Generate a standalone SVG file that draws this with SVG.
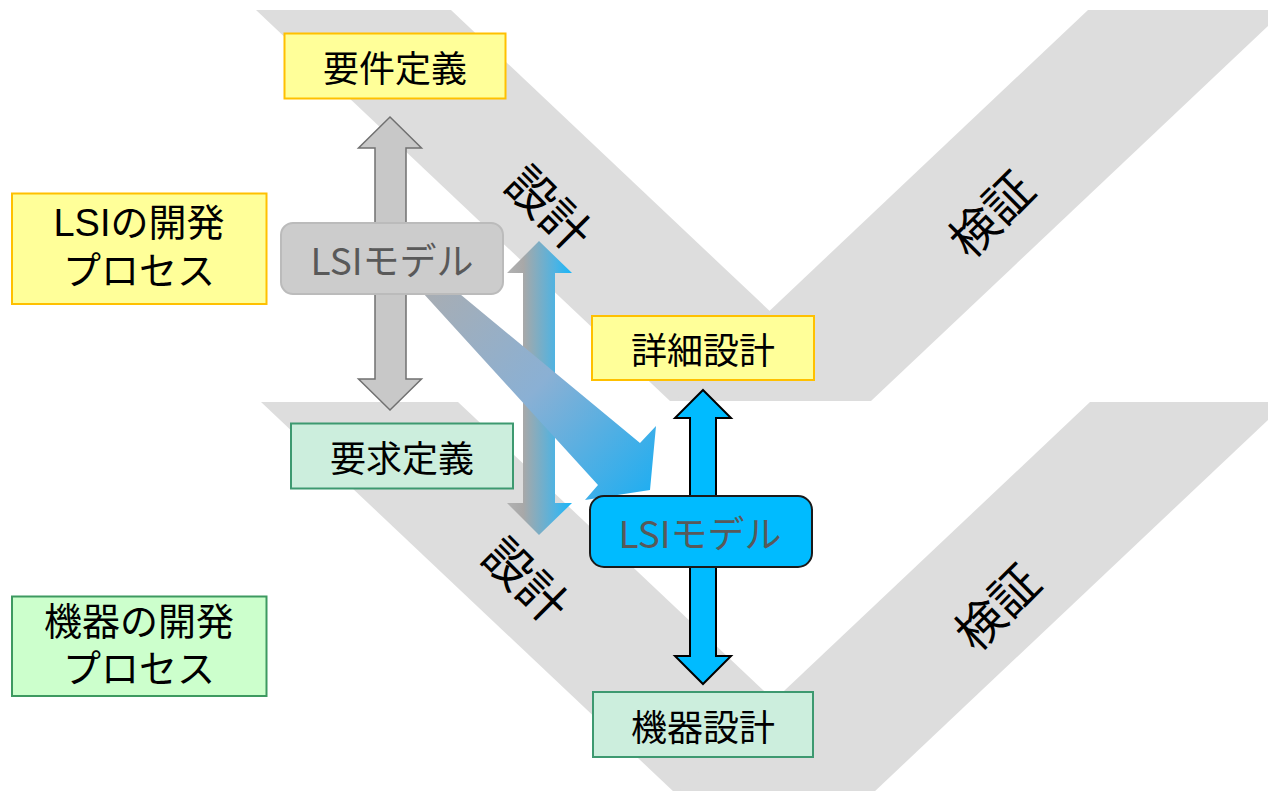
<svg xmlns="http://www.w3.org/2000/svg" width="1268" height="791" viewBox="0 0 1268 791">
<defs>
<style>
.band{fill:#DDDDDD;}
.lbl{font-family:"Noto Sans CJK JP","Noto Sans",sans-serif;font-size:36px;fill:#000;text-anchor:middle;dominant-baseline:central;}
.proc{font-family:"Liberation Sans","Noto Sans CJK JP",sans-serif;font-size:38px;fill:#000;text-anchor:middle;}
.mdl{font-family:"Noto Sans CJK JP","Noto Sans",sans-serif;font-size:37px;fill:#595959;text-anchor:middle;dominant-baseline:central;}
.diag{font-family:"Noto Sans CJK JP","Noto Sans",sans-serif;font-size:48px;fill:#000;text-anchor:middle;dominant-baseline:central;}
.yel{fill:#FFFF99;stroke:#FFC000;stroke-width:2;}
.mint{fill:#CCEEDD;stroke:#3D9970;stroke-width:2;}
.grn{fill:#CCFFCC;stroke:#3D9960;stroke-width:2;}
</style>
<linearGradient id="gv" gradientUnits="userSpaceOnUse" x1="507" y1="0" x2="572" y2="0">
<stop offset="0" stop-color="#B2B2B2"/>
<stop offset="0.25" stop-color="#A8A8A8"/>
<stop offset="0.75" stop-color="#4DB3E3"/>
<stop offset="1" stop-color="#18B6F8"/>
</linearGradient>
<linearGradient id="gd" gradientUnits="userSpaceOnUse" x1="425" y1="285" x2="650" y2="490">
<stop offset="0" stop-color="#A9ADB2"/>
<stop offset="0.5" stop-color="#8AB0D4"/>
<stop offset="1" stop-color="#22AEF0"/>
</linearGradient>
</defs>
<rect width="1268" height="791" fill="#FFFFFF"/>
<g id="bands">
<polygon class="band" points="256,10 451,10 865,401 670,401"/>
<polygon class="band" points="1088,10 1285,10 871,401 674,401"/>
<polygon class="band" points="261,402 458,402 872,793 675,793"/>
<polygon class="band" points="1090,402 1287,402 873,793 676,793"/>
</g>
<g id="band-labels">
<text class="diag" transform="translate(551,206) rotate(45)">設計</text>
<text class="diag" transform="translate(528,578) rotate(45)">設計</text>
<text class="diag" transform="translate(989,212) rotate(-45)">検証</text>
<text class="diag" transform="translate(995,605) rotate(-45)">検証</text>
</g>
<g id="connectors">
<polygon points="390,117 421.5,148 406,148 406,379 421.5,379 390,410 358.5,379 375,379 375,148 358.5,148" fill="#C8C8C8" stroke="#707070" stroke-width="1.5" stroke-linejoin="miter"/>
<polygon points="539,241 572,273 555,273 555,503 572,503 539,535 507,503 523,503 523,273 507,273" fill="url(#gv)"/>
<polygon points="402,270 431,270 640,443 656,426 650,490 585,500 598,485" fill="url(#gd)"/>
<polygon points="703,390 731,418 716,418 716,656 731,656 703,684 675,656 690,656 690,418 675,418" fill="#00BBFF" stroke="#000" stroke-width="2"/>
</g>
<g id="lsi-process">
<rect class="yel" x="12" y="193.5" width="254.5" height="110.5"/>
<text class="proc" x="139" y="236"><tspan x="139">LSIの開発</tspan><tspan x="139" dy="48">プロセス</tspan></text>
</g>
<g id="device-process">
<rect class="grn" x="12" y="596.5" width="254.5" height="99.5"/>
<text class="proc" x="139" y="635"><tspan x="139">機器の開発</tspan><tspan x="139" dy="47">プロセス</tspan></text>
</g>
<g id="youken">
<rect class="yel" x="284.5" y="33.5" width="221" height="65"/>
<text class="lbl" x="395" y="66">要件定義</text>
</g>
<g id="youkyuu">
<rect class="mint" x="291" y="423.5" width="222" height="65"/>
<text class="lbl" x="402" y="456">要求定義</text>
</g>
<g id="shousai">
<rect class="yel" x="592" y="316" width="222" height="64"/>
<text class="lbl" x="703" y="348">詳細設計</text>
</g>
<g id="kiki">
<rect class="mint" x="593" y="692" width="220" height="65"/>
<text class="lbl" x="703" y="725">機器設計</text>
</g>
<g id="lsi-model-gray">
<rect x="281" y="223" width="222" height="71" rx="12" fill="#CCCCCC" stroke="#BBBBBB" stroke-width="2"/>
<text class="mdl" x="392" y="259">LSIモデル</text>
</g>
<g id="lsi-model-blue">
<rect x="590" y="496" width="222" height="71" rx="14" fill="#00BBFF" stroke="#1A1A1A" stroke-width="2"/>
<text class="mdl" x="700" y="532">LSIモデル</text>
</g>
</svg>
